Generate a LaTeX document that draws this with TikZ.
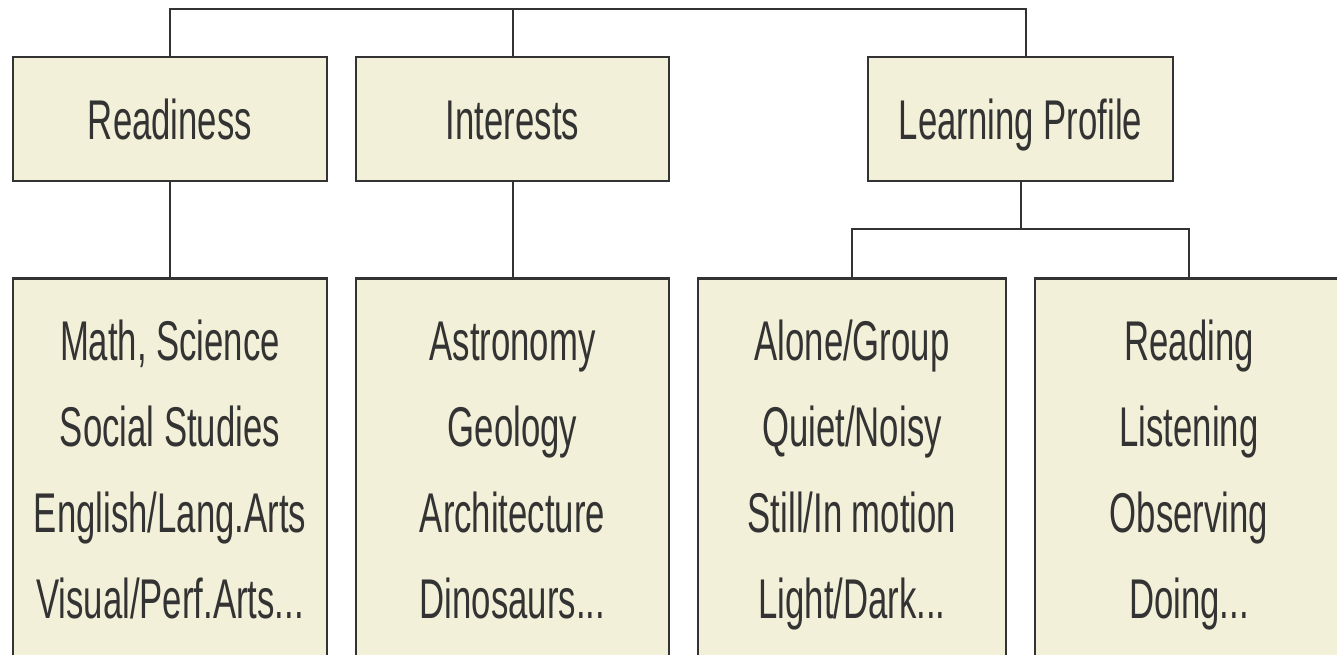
\documentclass[tikz,border=0pt]{standalone}
\usepackage{fontspec}
\setmainfont{Liberation Sans}[FakeStretch=0.62]
\definecolor{boxfill}{HTML}{F2F0D8}
\definecolor{ink}{HTML}{333333}
% one line of a list, with a strut so every column spaces alike
\newcommand\entry[1]{\strut#1}
\tikzset{
  cat/.style={draw=ink, fill=boxfill, line width=2.5pt, minimum width=314pt,
    minimum height=124pt, inner sep=0pt, text=ink,
    font=\fontsize{56}{86}\selectfont, text height=41pt, text depth=0pt},
  list/.style={draw=ink, fill=boxfill, line width=2.5pt, minimum width=312pt,
    minimum height=388pt, anchor=north, inner sep=0pt, text=ink, align=center,
    font=\fontsize{56}{86}\selectfont},
  link/.style={draw=ink, line width=2pt}
}
\begin{document}
\begin{tikzpicture}[x=1pt, y=-1pt]
  \useasboundingbox (0,0) rectangle (1337,654);
  \clip (0,0) rectangle (1337,654);

  % first level
  \node[cat] (rd) at (170,119) {Readiness};
  \node[cat, minimum width=313pt] (in) at (512.5,119) {Interests};
  \node[cat, minimum width=305pt] (lp) at (1020.5,119) {Learning Profile};

  % second level
  \node[list, minimum width=314pt] (rl) at (170,277)
    {\entry{Math, Science}\\\entry{Social Studies}\\\entry{English/Lang.Arts}\\\entry{Visual/Perf.Arts...}};
  \node[list, minimum width=313pt] (il) at (512.5,277)
    {\entry{Astronomy}\\\entry{Geology}\\\entry{Architecture}\\\entry{Dinosaurs...}};
  \node[list, minimum width=308pt] (ls) at (852,277)
    {\entry{Alone/Group}\\\entry{Quiet/Noisy}\\\entry{Still/In motion}\\\entry{Light/Dark...}};
  \node[list, minimum width=308pt] (lr) at (1189,277)
    {\entry{Reading}\\\entry{Listening}\\\entry{Observing}\\\entry{Doing...}};

  % top bus joining the three categories
  \coordinate (bus) at (170,9);
  \coordinate (busend) at (1026,9);
  \draw[link] (rd.north) -- (bus) -- (busend) -- (busend |- lp.north);
  \draw[link] (in.north) -- (in.north |- bus);

  % category to sub-lists
  \draw[link] (rd.south) -- (rl.north);
  \draw[link] (il.north) -- (in.south);
  \coordinate (fork) at (1020.5,229);
  \draw[link] (lp.south) -- (fork);
  \draw[link] (ls.north) |- (fork) -| (lr.north);
\end{tikzpicture}
\end{document}
